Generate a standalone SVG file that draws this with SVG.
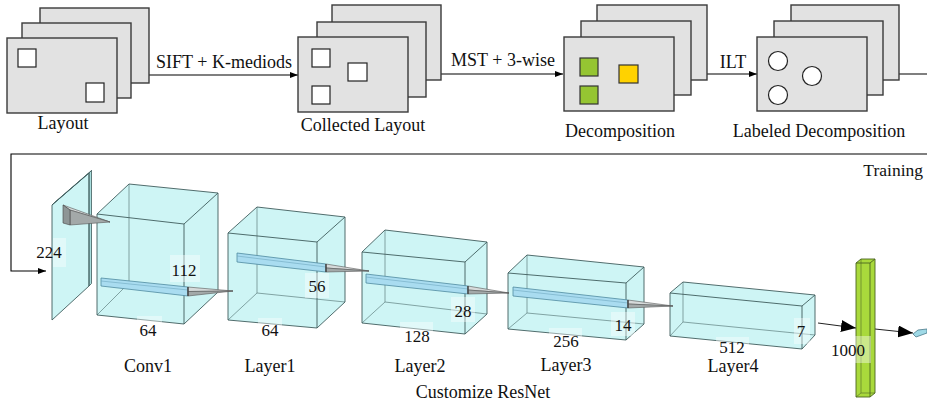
<svg xmlns="http://www.w3.org/2000/svg" width="927" height="409" viewBox="0 0 927 409" font-family="'Liberation Serif', 'Times New Roman', 'DejaVu Serif', serif">
<style>
text{font-family:'Liberation Serif','Times New Roman','DejaVu Serif',serif;fill:#111}
.t18{font-size:18px;text-anchor:middle}
.n17{font-size:17px;text-anchor:middle}
.sheet{fill:#e2e2e2;stroke:#3a3a3a;stroke-width:1.4}
.hole{fill:#fff;stroke:#222;stroke-width:1.2}
.grn{fill:#95c532;stroke:#333;stroke-width:1.2}
.yel{fill:#ffd200;stroke:#333;stroke-width:1.2}
.cube{fill:#c6f3f3;fill-opacity:.85;stroke:none}
.edge{fill:none;stroke:#3f5c5c;stroke-width:0.9}
.hid{fill:none;stroke:#5f7f7f;stroke-width:0.7}
.bar{fill:#a9dcf0;stroke:#4f8aa0;stroke-width:0.8}
.barln{fill:none;stroke:#6fa8c0;stroke-width:0.6}
.coneA{fill:#d6dada;stroke:#555;stroke-width:0.6}
.coneB{fill:#a3a9a9;stroke:#555;stroke-width:0.6}
.cap{fill:#8e9696;stroke:#444;stroke-width:0.6}
.patch{fill:#fff;fill-opacity:.4}
.ln{fill:none;stroke:#000;stroke-width:1.1}
.ln2{fill:none;stroke:#222;stroke-width:1}
</style>
<defs>
<marker id="ah" markerUnits="userSpaceOnUse" markerWidth="9" markerHeight="6" refX="8" refY="3" orient="auto"><path d="M0,0 L8,3 L0,6 z" fill="#000"/></marker>
<marker id="big" markerUnits="userSpaceOnUse" markerWidth="16" markerHeight="12" refX="15" refY="6" orient="auto"><path d="M0,0 L15,6 L0,12 z" fill="#000"/></marker>
</defs>
<rect width="927" height="409" fill="#fff"/>

<g id="connectors">
<line class="ln" x1="117" y1="75" x2="298" y2="75" marker-end="url(#ah)"/>
<line class="ln" x1="408" y1="74" x2="563" y2="74" marker-end="url(#ah)"/>
<line class="ln" x1="674" y1="74" x2="757" y2="74" marker-end="url(#ah)"/>
<line class="ln" x1="867" y1="74" x2="927" y2="74"/>
<path class="ln" d="M927,154 H11 V271 H46" marker-end="url(#ah)"/>
<line class="ln2" x1="818" y1="323" x2="856" y2="328" marker-end="url(#big)"/>
<line class="ln2" x1="875" y1="329" x2="913" y2="333" marker-end="url(#big)"/>
<text class="t18" x="224" y="68">SIFT + K-mediods</text>
<text class="t18" x="503" y="66">MST + 3-wise</text>
<text class="t18" x="733" y="68">ILT</text>
<text x="923" y="176" style="font-size:17.5px;text-anchor:end">Training</text>
</g>

<g id="layout">
<rect class="sheet" x="40" y="8" width="109" height="75"/>
<rect class="sheet" x="22" y="23" width="109" height="75"/>
<rect class="sheet" x="7" y="38" width="110" height="75"/>
<rect class="hole" x="18" y="49" width="18" height="18"/>
<rect class="hole" x="86" y="83" width="18" height="19"/>
<text class="t18" x="63" y="129">Layout</text>
</g>

<g id="collected">
<rect class="sheet" x="332" y="5" width="109" height="75"/>
<rect class="sheet" x="317" y="22" width="109" height="75"/>
<rect class="sheet" x="298" y="37" width="110" height="75"/>
<rect class="hole" x="312" y="49" width="18" height="18"/>
<rect class="hole" x="348" y="63" width="19" height="18"/>
<rect class="hole" x="312" y="86" width="18" height="18"/>
<text class="t18" x="363" y="131">Collected<tspan dx="4.5">Layout</tspan></text>
</g>

<g id="decomposition">
<rect class="sheet" x="597" y="5" width="110" height="75"/>
<rect class="sheet" x="581" y="21" width="110" height="74"/>
<rect class="sheet" x="564" y="37" width="110" height="74"/>
<rect class="grn" x="580" y="58" width="18" height="18"/>
<rect class="grn" x="580" y="86" width="18" height="18"/>
<rect class="yel" x="619" y="65" width="19" height="18"/>
<text class="t18" x="620" y="137">Decomposition</text>
</g>

<g id="labeled">
<rect class="sheet" x="791" y="5" width="108" height="75"/>
<rect class="sheet" x="774" y="21" width="109" height="74"/>
<rect class="sheet" x="757" y="37" width="110" height="74"/>
<circle class="hole" cx="778" cy="61" r="9.5"/>
<circle class="hole" cx="812" cy="76" r="9.5"/>
<circle class="hole" cx="778" cy="95" r="9.5"/>
<text class="t18" x="819" y="137">Labeled Decomposition</text>
</g>

<g id="input">
<polygon class="cube" points="52,205 89,173 89,286 52,320"/>
<polygon points="52,205 54.5,202.5 91.5,170.5 89,173" fill="#a9dede" stroke="#3f5c5c" stroke-width="0.8"/>
<polygon points="89,173 91.5,170.5 91.5,283.5 89,286" fill="#a9dede" stroke="#3f5c5c" stroke-width="0.8"/>
<polygon class="edge" points="52,205 89,173 89,286 52,320"/>
<rect class="patch" x="53" y="238" width="13" height="29"/>
<text class="n17" x="49" y="258">224</text>
</g>

<g id="conv1">
<polygon class="cube" points="97,214 129,184 218,193 218,292 184,324 97,315"/>
<path class="hid" d="M129,184 V283 L218,292 M97,315 L129,283"/>
<path class="edge" d="M97,214 L184,224 L184,324 L97,315 Z M97,214 L129,184 L218,193 L218,292 L184,324 M184,224 L218,193"/>
<polygon class="bar" points="101,278 188,287 188,296 101,286"/>
<line class="barln" x1="101" y1="281" x2="188" y2="290"/>
<rect class="patch" x="170" y="255" width="30" height="27"/>
<rect class="patch" x="137" y="316" width="25" height="10"/>
<text class="n17" x="184" y="276">112</text>
<text class="n17" x="148" y="336">64</text>
<text class="t18" x="148" y="372">Conv1</text>
</g>

<g id="layer1">
<polygon class="cube" points="228,233 257,207 345,217 345,302 317,328 228,320"/>
<path class="hid" d="M257,207 V293 L345,302 M228,320 L257,293"/>
<path class="edge" d="M228,233 L317,242 L317,328 L228,320 Z M228,233 L257,207 L345,217 L345,302 L317,328 M317,242 L345,217"/>
<polygon class="bar" points="237,253 326,264 326,272 237,262"/>
<line class="barln" x1="237" y1="256" x2="326" y2="267"/>
<rect class="patch" x="305" y="273" width="24" height="25"/>
<rect class="patch" x="258" y="318" width="24" height="9"/>
<text class="n17" x="317" y="292">56</text>
<text class="n17" x="270" y="336">64</text>
<text class="t18" x="270" y="372">Layer1</text>
</g>

<g id="layer2">
<polygon class="cube" points="362,252 385,230 487,242 487,314 465,334 362,323"/>
<path class="hid" d="M385,230 V302 L487,314 M362,323 L385,302"/>
<path class="edge" d="M362,252 L465,262 L465,334 L362,323 Z M362,252 L385,230 L487,242 L487,314 L465,334 M465,262 L487,242"/>
<polygon class="bar" points="366,274 468,286 468,294 366,283"/>
<line class="barln" x1="366" y1="277" x2="468" y2="289"/>
<rect class="patch" x="451" y="297" width="24" height="25"/>
<rect class="patch" x="400" y="322" width="33" height="10"/>
<text class="n17" x="463" y="317">28</text>
<text class="n17" x="417" y="342">128</text>
<text class="t18" x="420" y="372">Layer2</text>
<text class="t18" x="483" y="398">Customize<tspan dx="4.5">ResNet</tspan></text>
</g>

<g id="layer3">
<polygon class="cube" points="508,273 527,255 644,267 644,324 626,340 508,329"/>
<path class="hid" d="M527,255 V313 L644,324 M508,329 L527,313"/>
<path class="edge" d="M508,273 L626,283 L626,340 L508,329 Z M508,273 L527,255 L644,267 L644,324 L626,340 M626,283 L644,267"/>
<polygon class="bar" points="513,287 628,300 628,308 513,296"/>
<line class="barln" x1="513" y1="290" x2="628" y2="303"/>
<rect class="patch" x="611" y="312" width="24" height="24"/>
<rect class="patch" x="549" y="328" width="33" height="10"/>
<text class="n17" x="623" y="331">14</text>
<text class="n17" x="566" y="347">256</text>
<text class="t18" x="566" y="371">Layer3</text>
</g>

<g id="layer4">
<polygon class="cube" points="670,293 683,282 815,295 815,335 802,349 670,336"/>
<path class="hid" d="M683,282 V322 L815,335 M670,336 L683,322"/>
<path class="edge" d="M670,293 L802,306 L802,349 L670,336 Z M670,293 L683,282 L815,295 L815,335 L802,349 M802,306 L815,295"/>
<rect class="patch" x="794" y="318" width="16" height="26"/>
<rect class="patch" x="716" y="337" width="33" height="9"/>
<text class="n17" x="801" y="337">7</text>
<text class="n17" x="732" y="353">512</text>
<text class="t18" x="733" y="372">Layer4</text>
</g>

<g id="fc">
<polygon points="856,263 861,259 875,259 875,393 870,397 856,397" fill="#a9d93c" stroke="none"/>
<path d="M861,259 V393 L875,393 M856,397 L861,393" fill="none" stroke="#5d7a2a" stroke-width="0.7"/>
<path d="M856,263 H870 V397 H856 Z M856,263 L861,259 H875 V393 L870,397 M870,263 L875,259" fill="none" stroke="#4a6420" stroke-width="0.9"/>
<rect class="patch" x="855" y="336" width="16" height="27"/>
<text class="n17" x="848" y="356">1000</text>
</g>

<g id="output">
<polygon points="913,334 918,330 927,329 927,333 916,337" fill="#9fd9e6" stroke="#4a7a8a" stroke-width="0.8"/>
</g>

<g id="cones">
<polygon class="coneA" points="63,205 110,222 70,210"/>
<polygon class="coneB" points="70,210 110,222 70,225"/>
<polygon class="cap" points="63,205 70,210 70,225 63,223"/>
<polygon class="coneA" points="188,287 233,291 188,291.5"/>
<polygon class="coneB" points="188,291.5 233,291 188,296"/>
<line x1="188" y1="287" x2="188" y2="296" stroke="#444" stroke-width="1.4"/>
<polygon class="coneA" points="326,264 369,271 326,268"/>
<polygon class="coneB" points="326,268 369,271 326,272"/>
<line x1="326" y1="264" x2="326" y2="272" stroke="#444" stroke-width="1.4"/>
<polygon class="coneA" points="468,286 509,293 468,290"/>
<polygon class="coneB" points="468,290 509,293 468,294"/>
<line x1="468" y1="286" x2="468" y2="294" stroke="#444" stroke-width="1.4"/>
<polygon class="coneA" points="628,300 673,306 628,304"/>
<polygon class="coneB" points="628,304 673,306 628,308"/>
<line x1="628" y1="300" x2="628" y2="308" stroke="#444" stroke-width="1.4"/>
</g>
</svg>
